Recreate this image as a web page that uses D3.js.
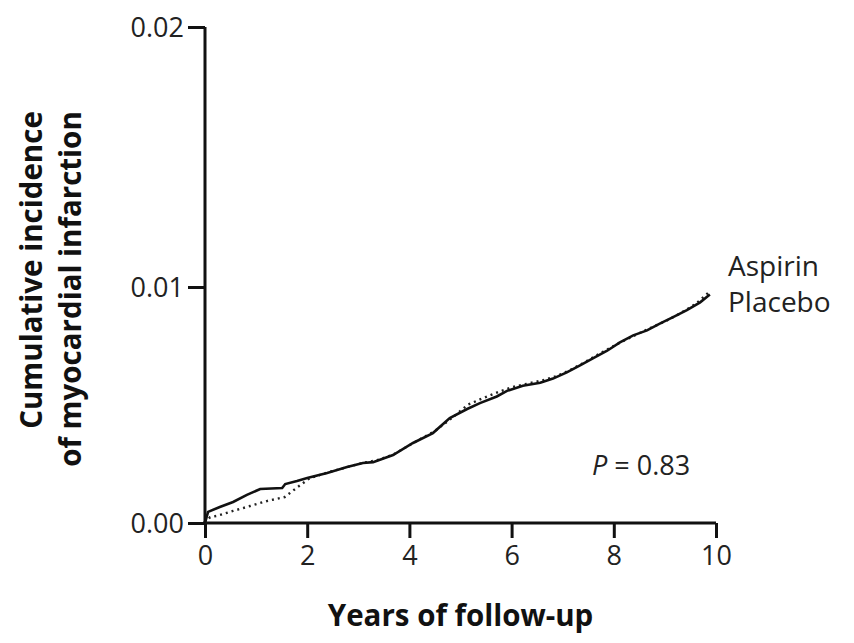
<!DOCTYPE html>
<html>
<head>
<meta charset="utf-8">
<script src="https://cdn.jsdelivr.net/npm/d3@7"></script>
<style>
  html, body { margin: 0; padding: 0; background: #fff; }
  svg { display: block; font-family: "Open Sans", "Noto Sans", sans-serif; }
</style>
</head>
<body>
<svg id="chart" width="854" height="643"></svg>
<script>
// Years of follow-up and cumulative incidence of myocardial infarction
const aspirinYears = [0, 0.06, 0.29, 0.55, 0.82, 1.08, 1.51, 1.57, 1.8, 2.0, 2.39, 2.78, 3.09, 3.29, 3.68, 4.07, 4.46, 4.79, 5.13, 5.38, 5.71, 5.91, 6.22, 6.56, 6.81, 7.08, 7.34, 7.59, 7.87, 8.12, 8.38, 8.65, 8.9, 9.16, 9.43, 9.69, 9.88];
const aspirinValues = [0, 0.00047, 0.00068, 0.00089, 0.00119, 0.00144, 0.00148, 0.00165, 0.00178, 0.00191, 0.00212, 0.00237, 0.00254, 0.00258, 0.00288, 0.00339, 0.00381, 0.00445, 0.00483, 0.00508, 0.00536, 0.0056, 0.00582, 0.00594, 0.00612, 0.00638, 0.00668, 0.00698, 0.0073, 0.00765, 0.00795, 0.00816, 0.00845, 0.00872, 0.00902, 0.00935, 0.00968];

const placeboYears = [0, 0.1, 0.23, 0.55, 0.88, 1.21, 1.56, 1.8, 2.05, 2.4, 2.8, 3.1, 3.4, 3.7, 4.1, 4.5, 4.85, 5.15, 5.45, 5.75, 6.0, 6.3, 6.6, 6.9, 7.2, 7.5, 7.8, 8.1, 8.4, 8.7, 9.0, 9.3, 9.6, 9.9];
const placeboValues = [0, 0.00025, 0.0003, 0.00051, 0.00072, 0.00093, 0.0011, 0.0015, 0.0019, 0.00214, 0.00238, 0.00255, 0.00268, 0.00292, 0.00342, 0.0039, 0.00448, 0.00502, 0.0053, 0.00556, 0.00575, 0.0059, 0.00604, 0.00624, 0.00654, 0.0069, 0.00727, 0.00762, 0.00794, 0.00825, 0.00854, 0.00888, 0.00928, 0.00985];

const xTicks = [0, 2, 4, 6, 8, 10];
const yTicks = [0, 0.01, 0.02];

const seriesNames = ["Aspirin", "Placebo"];
const pValueLabel = "P = 0.83";

const svg = d3.select("#chart");

const x = d3.scaleLinear().domain([0, 10]).range([205, 716]);
const y = d3.scaleLinear().domain([0, 0.01, 0.02]).range([523, 287, 27]);

// Axes
const yAxis = svg.append("g")
  .attr("transform", `translate(${x(0)},0)`)
  .call(d3.axisLeft(y).tickValues(yTicks).tickFormat(d3.format(".2f")).tickSize(17).tickSizeOuter(0).tickPadding(4));

const xAxis = svg.append("g")
  .attr("transform", `translate(0,${y(0)})`)
  .call(d3.axisBottom(x).tickValues(xTicks).tickFormat(d3.format("d")).tickSize(15).tickSizeOuter(0).tickPadding(8));

[yAxis, xAxis].forEach(g => {
  g.select(".domain").attr("stroke", "#111").attr("stroke-width", 3);
  g.selectAll(".tick line").attr("stroke", "#111").attr("stroke-width", 3);
  g.selectAll(".tick text").attr("fill", "#222").style("font-size", "27px")
    .style("font-family", "'Open Sans', 'Noto Sans', sans-serif");
});
yAxis.selectAll(".tick text").attr("dy", "0.36em");
// extend the y-axis line down through the x-axis
yAxis.select(".domain").attr("d", `M0,${y(0.02)}V${y(0) + 2}`);
xAxis.select(".domain").attr("d", `M${x(0) - 2},0H${x(10)}`);

// Curves
const curveLine = d3.line()
  .x(d => x(d[0]))
  .y(d => y(d[1]))
  .curve(d3.curveLinear);

svg.append("path")
  .datum(d3.zip(placeboYears, placeboValues))
  .attr("fill", "none")
  .attr("stroke", "#222")
  .attr("stroke-width", 2.4)
  .attr("stroke-dasharray", "2,4")
  .attr("d", curveLine);

svg.append("path")
  .datum(d3.zip(aspirinYears, aspirinValues))
  .attr("fill", "none")
  .attr("stroke", "#111")
  .attr("stroke-width", 2.6)
  .attr("d", curveLine);

// Series labels
svg.append("text")
  .attr("x", 728).attr("y", 276)
  .attr("fill", "#222")
  .style("font-size", "28px")
  .text(seriesNames[0]);

svg.append("text")
  .attr("x", 728).attr("y", 312)
  .attr("fill", "#222")
  .style("font-size", "28px")
  .text(seriesNames[1]);

// P value
const pText = svg.append("text")
  .attr("x", 592).attr("y", 475)
  .attr("fill", "#222")
  .style("font-size", "27px");
pText.append("tspan").style("font-style", "italic").text(pValueLabel.slice(0, 1));
pText.append("tspan").text(pValueLabel.slice(1));

// Axis titles
svg.append("text")
  .attr("x", x(5)).attr("y", 626)
  .attr("text-anchor", "middle")
  .attr("fill", "#111")
  .style("font-size", "29.5px")
  .style("font-weight", "700")
  .text("Years of follow-up");

svg.append("text")
  .attr("transform", "translate(42,270) rotate(-90)")
  .attr("text-anchor", "middle")
  .attr("fill", "#111")
  .style("font-size", "29.5px")
  .style("font-weight", "700")
  .text("Cumulative incidence");

svg.append("text")
  .attr("transform", "translate(81,289) rotate(-90)")
  .attr("text-anchor", "middle")
  .attr("fill", "#111")
  .style("font-size", "29.5px")
  .style("font-weight", "700")
  .text("of myocardial infarction");
</script>
</body>
</html>
